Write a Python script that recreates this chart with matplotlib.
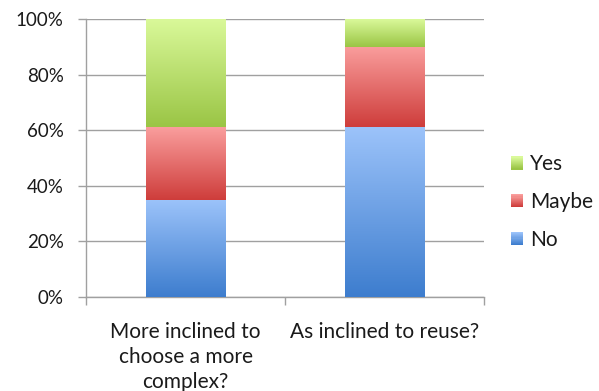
import numpy as np
import matplotlib
matplotlib.use("Agg")
import matplotlib.pyplot as plt
from matplotlib.colors import LinearSegmentedColormap
from matplotlib.patches import Rectangle
from matplotlib.legend_handler import HandlerBase

categories = ["More inclined to\nchoose a more\ncomplex?", "As inclined to reuse?"]
series = ["No", "Maybe", "Yes"]
no_vals = [35, 61]
maybe_vals = [26, 29]
yes_vals = [39, 10]
y_ticks = [0, 20, 40, 60, 80, 100]
y_tick_labels = ["0%", "20%", "40%", "60%", "80%", "100%"]

# light (top) -> dark (bottom) gradient colours per series
gradients = {
    "No": ("#9CC3FA", "#3D7DCE"),
    "Maybe": ("#FA9E9D", "#CE3D3B"),
    "Yes": ("#DAF99A", "#9AC545"),
}

plt.rcParams["font.family"] = ["Lato", "DejaVu Sans"]

fig = plt.figure(figsize=(5.99, 3.91), dpi=100)
ax = fig.add_axes([0.1436, 0.2404, 0.808 - 0.1436, 0.9514 - 0.2404])

bar_width = 0.4
grad = np.linspace(0, 1, 256).reshape(-1, 1)


def gradient_cmap(name):
    top, bottom = gradients[name]
    return LinearSegmentedColormap.from_list(name, [bottom, top])


values = {"No": no_vals, "Maybe": maybe_vals, "Yes": yes_vals}
for i in range(len(categories)):
    base = 0
    for name in series:
        v = values[name][i]
        ax.imshow(grad, extent=[i - bar_width / 2, i + bar_width / 2, base, base + v],
                  origin="lower", aspect="auto", cmap=gradient_cmap(name),
                  zorder=3, interpolation="bilinear")
        base += v

ax.set_xlim(-0.5, 1.5)
ax.set_ylim(0, 100)

ax.set_yticks(y_ticks)
ax.set_yticklabels(y_tick_labels, fontsize=13.5, color="#1a1a1a")
ax.set_xticks(range(len(categories)))
ax.set_xticklabels(categories, fontsize=15, color="#1a1a1a", linespacing=1.3)
ax.set_xticks([-0.5, 0.5, 1.5], minor=True)
ax.tick_params(axis="x", which="major", length=0, pad=18)
ax.tick_params(axis="x", which="minor", length=6, color="#a0a0a0", width=1)
ax.tick_params(axis="y", length=6, color="#a0a0a0", width=1, pad=10)

ax.yaxis.grid(True, color="#a0a0a0", linewidth=1, zorder=0)
ax.set_axisbelow(True)
for side in ["top", "right"]:
    ax.spines[side].set_visible(False)
for side in ["left", "bottom"]:
    ax.spines[side].set_color("#a0a0a0")
    ax.spines[side].set_linewidth(1)


class GradientHandler(HandlerBase):
    def create_artists(self, legend, orig_handle, xdescent, ydescent,
                       width, height, fontsize, trans):
        name = orig_handle.get_label()
        top, bottom = gradients[name]
        cmap = LinearSegmentedColormap.from_list(name, [bottom, top])
        n = 12
        artists = []
        for k in range(n):
            r = Rectangle((-xdescent, -ydescent + height * k / n), width, height / n + 0.3,
                          facecolor=cmap(k / (n - 1)), edgecolor="none", transform=trans)
            artists.append(r)
        return artists


handles = [Rectangle((0, 0), 1, 1, label=name) for name in ["Yes", "Maybe", "No"]]
fig.legend(handles=handles, labels=["Yes", "Maybe", "No"],
           handler_map={Rectangle: GradientHandler()},
           loc="center left", bbox_to_anchor=(0.821, 0.483),
           frameon=False, fontsize=15, labelspacing=0.85,
           handlelength=0.58, handleheight=0.58, handletextpad=0.35,
           labelcolor="#1a1a1a")

fig.savefig("out.png", dpi=100)
